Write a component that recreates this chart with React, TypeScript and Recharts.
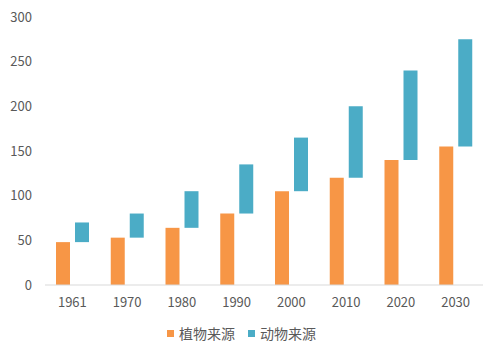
import React from "react";
import { Bar, BarChart, Legend, XAxis, YAxis } from "recharts";

const years = ["1961", "1970", "1980", "1990", "2000", "2010", "2020", "2030"];
const plantValues = [48, 53, 64, 80, 105, 120, 140, 155];
const totalValues = [70, 80, 105, 135, 165, 200, 240, 275];
const yTicks = [0, 50, 100, 150, 200, 250, 300];

const ORANGE = "#F79646";
const BLUE = "#4BACC6";
const TEXT = "#595959";
const FONT = '"Noto Sans CJK SC", "Noto Sans", sans-serif';

const data = years.map((year, i) => ({
  year,
  plant: plantValues[i],
  animal: [plantValues[i], totalValues[i]],
}));

const legendItems = [
  { label: "植物来源", color: ORANGE },
  { label: "动物来源", color: BLUE },
];

function LegendContent() {
  return (
    <div
      style={{
        height: 30,
        display: "flex",
        justifyContent: "center",
        alignItems: "center",
        paddingTop: 6,
        boxSizing: "border-box",
        fontFamily: FONT,
        fontSize: 14,
        color: TEXT,
      }}
    >
      {legendItems.map((item, i) => (
        <span
          key={item.label}
          style={{ display: "flex", alignItems: "center", marginLeft: i ? 13 : 0 }}
        >
          <span
            style={{ width: 7, height: 7, background: item.color, marginRight: 5 }}
          />
          {item.label}
        </span>
      ))}
    </div>
  );
}

export default function App() {
  return (
    <div style={{ position: "absolute", left: 0, top: 0, background: "#fff" }}>
      <BarChart
        width={504}
        height={360}
        data={data}
        margin={{ top: 17, right: 21, left: 0, bottom: 15 }}
        barSize={14}
        barGap={5}
      >
        <XAxis
          dataKey="year"
          tickLine={false}
          axisLine={{ stroke: "#d9d9d9" }}
          tickSize={0}
          tickMargin={13}
          height={30}
          tick={{ fontSize: 13, fill: TEXT, fontFamily: FONT }}
        />
        <YAxis
          domain={[0, 300]}
          ticks={yTicks}
          tickLine={false}
          axisLine={false}
          tickSize={0}
          tickMargin={13}
          width={45}
          tick={{ fontSize: 13, fill: TEXT, fontFamily: FONT }}
        />
        <Legend verticalAlign="bottom" content={<LegendContent />} />
        <Bar dataKey="plant" name="植物来源" fill={ORANGE} isAnimationActive={false} />
        <Bar dataKey="animal" name="动物来源" fill={BLUE} isAnimationActive={false} />
      </BarChart>
    </div>
  );
}
